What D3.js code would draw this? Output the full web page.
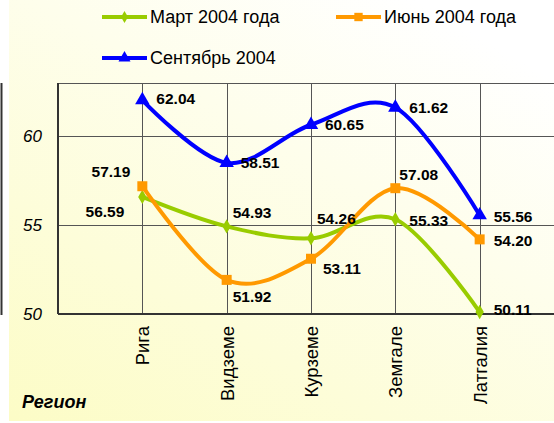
<!DOCTYPE html>
<html>
<head>
<meta charset="utf-8">
<style>
  body { margin: 0; background: #fff; }
  svg { display: block; font-family: Arial, "Liberation Sans", sans-serif; }
</style>
</head>
<body>
<svg width="554" height="423"></svg>
<script src="https://d3js.org/d3.v7.min.js"></script>
<script>
    var regions = ["Рига", "Видземе", "Курземе", "Земгале", "Латгалия"];
    var seriesNames = ["Март 2004 года", "Июнь 2004 года", "Сентябрь 2004"];
    var march = [56.59, 54.93, 54.26, 55.33, 50.11];
    var june = [57.19, 51.92, 53.11, 57.08, 54.20];
    var september = [62.04, 58.51, 60.65, 61.62, 55.56];
    var yTicks = [50, 55, 60];

    // label placement per point: [dx, dy, anchor]
    var labelPos = [
        [[-18, 15, "end"], [6, -14, "start"], [6, -20, "start"], [14, 1, "start"], [14, -2, "start"]],
        [[-12, -15, "end"], [6, 17, "start"], [12, 10, "start"], [4, -14, "start"], [14, 1, "start"]],
        [[14, -1, "start"], [14, 0, "start"], [14, 0, "start"], [14, 0, "start"], [14, 1, "start"]]
    ];

    var series = [
        { name: seriesNames[0], values: march, color: "#99cc00", marker: d3.symbolDiamond, size: 60 },
        { name: seriesNames[1], values: june, color: "#ff9900", marker: d3.symbolSquare, size: 100 },
        { name: seriesNames[2], values: september, color: "#0000ff", marker: d3.symbolTriangle, size: 90 }
    ];

    var svg = d3.select("svg");

    // background gradient panel
    var defs = svg.append("defs");
    var grad = defs.append("linearGradient")
        .attr("id", "bg")
        .attr("x1", "0").attr("y1", "1")
        .attr("x2", "0.75").attr("y2", "0");
    grad.append("stop").attr("offset", "0").attr("stop-color", "#fcfcc6");
    grad.append("stop").attr("offset", "1").attr("stop-color", "#ffffff");

    svg.append("rect")
        .attr("x", 9).attr("y", 0)
        .attr("width", 545).attr("height", 421)
        .attr("fill", "url(#bg)");

    svg.append("line")
        .attr("x1", 1.5).attr("x2", 1.5)
        .attr("y1", 83).attr("y2", 315)
        .attr("stroke", "#333").attr("stroke-width", 2);

    var x = d3.scalePoint()
        .domain(regions)
        .range([58, 564])
        .padding(1);

    var y = d3.scaleLinear()
        .domain([50, 63])
        .range([314, 83]);

    var g = svg.append("g");

    // horizontal grid
    g.selectAll("line.hgrid")
        .data(yTicks.slice(1).concat([63]))
        .enter().append("line")
        .attr("class", "hgrid")
        .attr("x1", x.range()[0]).attr("x2", 554)
        .attr("y1", function (d) { return Math.round(y(d)) + 0.5; })
        .attr("y2", function (d) { return Math.round(y(d)) + 0.5; })
        .attr("stroke", "#555").attr("stroke-width", 1);

    // vertical grid
    g.selectAll("line.vgrid")
        .data(regions)
        .enter().append("line")
        .attr("class", "vgrid")
        .attr("x1", function (d) { return Math.round(x(d)) + 0.5; })
        .attr("x2", function (d) { return Math.round(x(d)) + 0.5; })
        .attr("y1", y(63)).attr("y2", y(50))
        .attr("stroke", "#555").attr("stroke-width", 1);

    // y axis
    var yAxis = g.append("g")
        .attr("transform", "translate(" + x.range()[0] + ",0)")
        .call(d3.axisLeft(y).tickValues(yTicks).tickSize(0).tickPadding(16));
    yAxis.select(".domain").attr("stroke", "#333").attr("stroke-width", 2)
        .attr("d", "M0," + y(63) + "V" + y(50));
    yAxis.selectAll("text")
        .attr("font-family", "Arial, 'Liberation Sans', sans-serif")
        .attr("font-size", 17).attr("font-style", "italic").attr("fill", "#000");

    // x axis
    var xAxis = g.append("g")
        .attr("transform", "translate(0," + y(50) + ")")
        .call(d3.axisBottom(x).tickSize(0).tickPadding(0));
    xAxis.select(".domain").attr("stroke", "#333").attr("stroke-width", 2)
        .attr("d", "M" + x.range()[0] + ",0H554");
    xAxis.selectAll("text")
        .attr("font-family", "Arial, 'Liberation Sans', sans-serif")
        .attr("font-size", 18.5).attr("fill", "#000")
        .attr("text-anchor", "end")
        .attr("transform", "rotate(-90)")
        .attr("x", -12).attr("y", 0).attr("dy", "0.35em");

    svg.append("text")
        .attr("x", 22).attr("y", 408)
        .attr("font-size", 18).attr("font-weight", "bold").attr("font-style", "italic")
        .text("Регион");

    var line = d3.line()
        .x(function (d, i) { return x(regions[i]); })
        .y(function (d) { return y(d); })
        .curve(d3.curveCardinal.tension(0));

    series.forEach(function (s, si) {
        g.append("path")
            .datum(s.values)
            .attr("fill", "none")
            .attr("stroke", s.color)
            .attr("stroke-width", 4)
            .attr("stroke-linejoin", "round")
            .attr("d", line);

        g.selectAll("path.m" + si)
            .data(s.values)
            .enter().append("path")
            .attr("class", "m" + si)
            .attr("transform", function (d, i) { return "translate(" + x(regions[i]) + "," + y(d) + ")"; })
            .attr("d", d3.symbol().type(s.marker).size(s.size))
            .attr("fill", s.color);
    });

    series.forEach(function (s, si) {
        g.selectAll("text.l" + si)
            .data(s.values)
            .enter().append("text")
            .attr("class", "l" + si)
            .attr("x", function (d, i) { return x(regions[i]) + labelPos[si][i][0]; })
            .attr("y", function (d, i) { return y(d) + labelPos[si][i][1]; })
            .attr("dy", "0.35em")
            .attr("text-anchor", function (d, i) { return labelPos[si][i][2]; })
            .attr("font-size", 15.5).attr("font-weight", "bold").attr("fill", "#000")
            .text(function (d) { return d.toFixed(2); });
    });

    // legend
    var legendPos = [[102, 17], [336, 17], [102, 58]];
    var legend = svg.append("g");
    series.forEach(function (s, si) {
        var lg = legend.append("g")
            .attr("transform", "translate(" + legendPos[si][0] + "," + legendPos[si][1] + ")");
        lg.append("line")
            .attr("x1", 0).attr("x2", 45).attr("y1", 0).attr("y2", 0)
            .attr("stroke", s.color).attr("stroke-width", 4);
        lg.append("path")
            .attr("transform", "translate(22.5,0)")
            .attr("d", d3.symbol().type(s.marker).size(s.size * 0.7))
            .attr("fill", s.color);
        lg.append("text")
            .attr("x", 48).attr("y", 0).attr("dy", "0.35em")
            .attr("font-size", 18).attr("fill", "#000")
            .text(s.name);
    });
</script>
</body>
</html>
